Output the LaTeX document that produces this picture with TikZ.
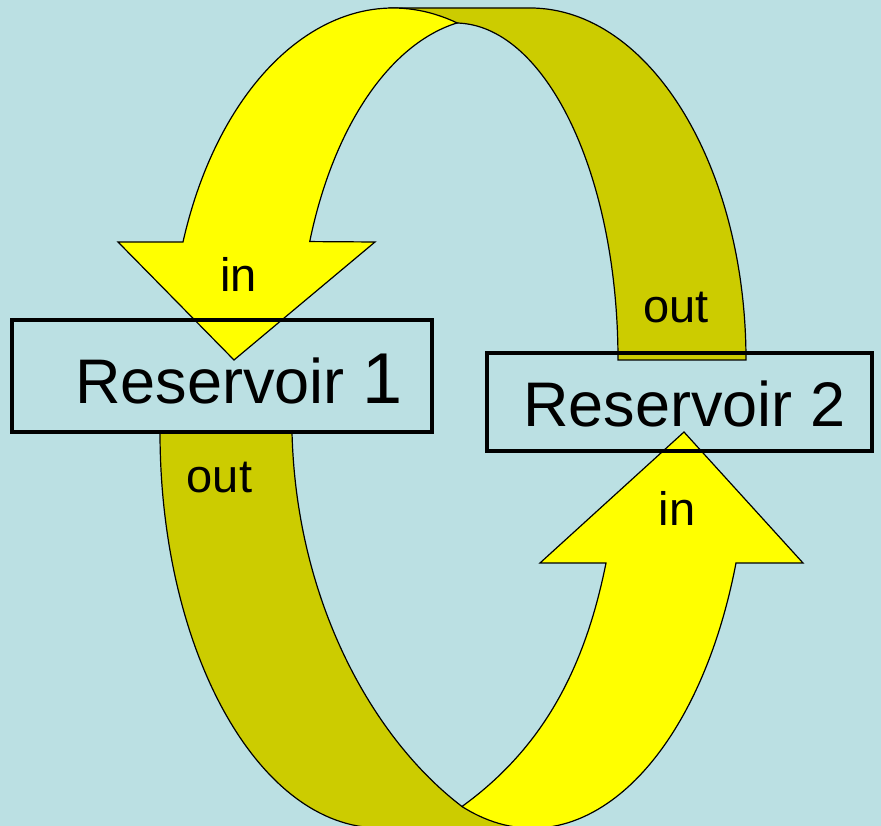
\documentclass[tikz,border=0pt]{standalone}
\usepackage{fontspec}
\setmainfont{Liberation Sans}
\definecolor{bgblue}{RGB}{187,224,227}
\definecolor{backband}{RGB}{204,204,0}
\definecolor{frontband}{RGB}{255,255,0}
\begin{document}
\begin{tikzpicture}[x=1pt,y=1pt,
  band/.style={draw=black, line width=1.2pt, line join=miter},
  resbox/.style={draw=black, line width=3.3pt, inner sep=0pt},
  lbl/.style={font=\fontsize{47}{47}\selectfont, inner sep=0pt, anchor=base},
  rtext/.style={font=\fontsize{63}{63}\selectfont, inner sep=0pt, anchor=base west}]
\useasboundingbox (0,0) rectangle (881,826);
\fill[bgblue] (0,0) rectangle (881,826);
\begin{scope}
\clip (0,0) rectangle (881,826);
\coordinate (B) at (462,19.5);
% back side of the top loop
\filldraw[band, fill=backband] (393,818) -- (530,818)
  arc[start angle=90, end angle=0, x radius=216pt, y radius=352pt]
  -- (618,466)
  arc[start angle=0, end angle=90, x radius=163pt, y radius=337pt] -- cycle;
% back side of the bottom loop
\filldraw[band, fill=backband] (160,394)
  arc[start angle=180, end angle=270, x radius=220pt, y radius=396pt]
  -- (532,-2) -- (B) .. controls (372,88) and (296,226) .. (292,394) -- cycle;
% front arrow into Reservoir 1
\filldraw[band, fill=frontband] (183,584)
  arc[start angle=160.4, end angle=73.3, x radius=223pt, y radius=352pt]
  arc[start angle=99.9, end angle=160, x radius=192pt, y radius=340pt]
  -- (375,584) -- (234,466) -- (118,584) -- cycle;
% front arrow into Reservoir 2
\filldraw[band, fill=frontband] (736,263)
  arc[start angle=-19.4, end angle=-109, x radius=216pt, y radius=397pt]
  .. controls (540,76) and (584,153) .. (606,263)
  -- (540,263) -- (684,394) -- (803,263) -- cycle;
\end{scope}
% reservoirs
\node[resbox, minimum width=420pt, minimum height=112pt] (r1) at (222,450) {};
\node[resbox, minimum width=385pt, minimum height=98pt] (r2) at (679.5,424) {};
\node[rtext] (t1) at (75,422) {Reservoir {\fontsize{72}{72}\selectfont 1}};
\node[rtext] (t2) at (523,399) {Reservoir 2};
% labels
\node[lbl] (in1) at (238.5,534) {in};
\node[lbl] (out2) at (676,503) {out};
\node[lbl] (out1) at (219.5,333) {out};
\node[lbl] (in2) at (677,300) {in};
\end{tikzpicture}
\end{document}
